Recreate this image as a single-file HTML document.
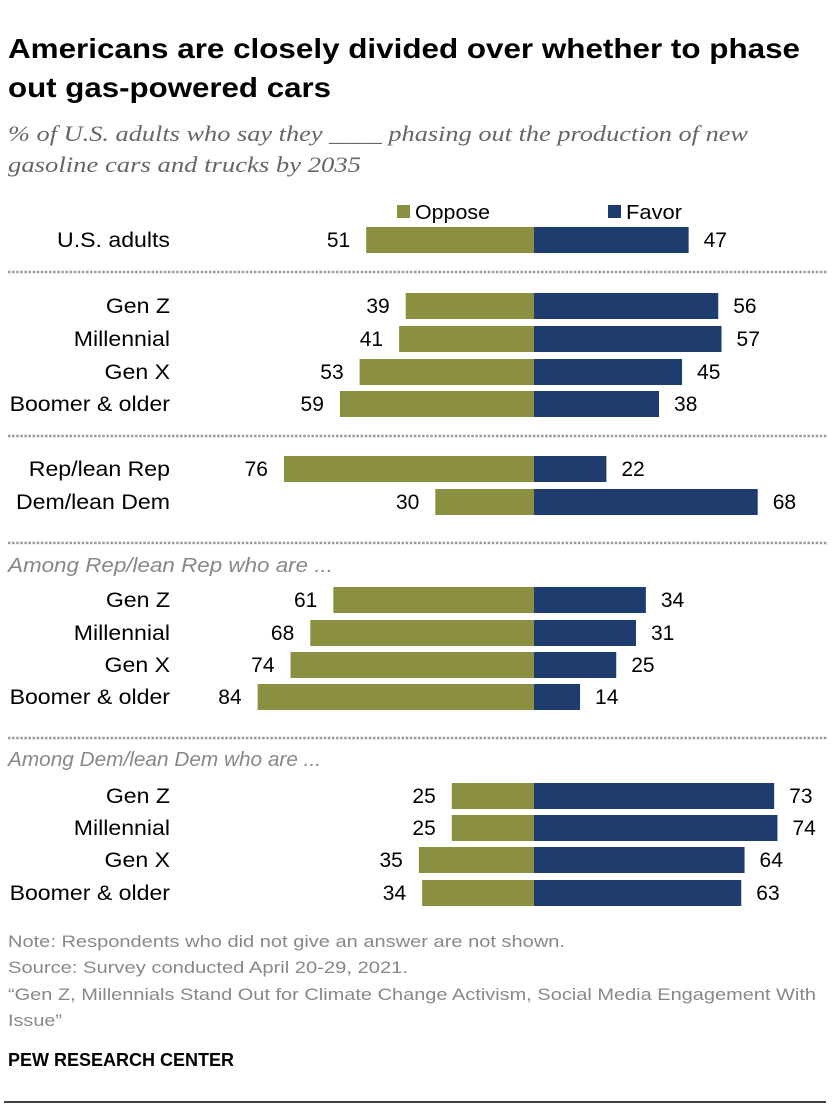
<!DOCTYPE html>
<html><head><meta charset="utf-8"><style>
body{margin:0;background:#fff;}
svg{display:block;font-family:"Liberation Sans",sans-serif;}
</style></head><body>
<svg id="c" width="840" height="1108" viewBox="0 0 840 1108">
<text x="8" y="58" font-size="28" font-weight="bold" fill="#000" textLength="792" lengthAdjust="spacingAndGlyphs">Americans are closely divided over whether to phase</text>
<text x="8" y="97" font-size="28" font-weight="bold" fill="#000" textLength="323" lengthAdjust="spacingAndGlyphs">out gas-powered cars</text>
<text x="8" y="141" font-size="22" font-style="italic" fill="#666" font-family="Liberation Serif,serif" textLength="740" lengthAdjust="spacingAndGlyphs">% of U.S. adults who say they ____ phasing out the production of new</text>
<text x="8" y="172" font-size="22" font-style="italic" fill="#666" font-family="Liberation Serif,serif" textLength="353" lengthAdjust="spacingAndGlyphs">gasoline cars and trucks by 2035</text>
<rect x="397" y="205" width="13" height="13" fill="#8a9040"/>
<text x="415" y="219" font-size="20" textLength="75" lengthAdjust="spacingAndGlyphs">Oppose</text>
<rect x="608" y="205" width="13" height="13" fill="#1f3c6e"/>
<text x="626" y="219" font-size="20" textLength="56" lengthAdjust="spacingAndGlyphs">Favor</text>
<g id="g"></g>
<text x="8" y="947" font-size="17" fill="#888" textLength="557" lengthAdjust="spacingAndGlyphs">Note: Respondents who did not give an answer are not shown.</text>
<text x="8" y="973" font-size="17" fill="#888" textLength="400" lengthAdjust="spacingAndGlyphs">Source: Survey conducted April 20-29, 2021.</text>
<text x="8" y="1000" font-size="17" fill="#888" textLength="808" lengthAdjust="spacingAndGlyphs">“Gen Z, Millennials Stand Out for Climate Change Activism, Social Media Engagement With</text>
<text x="8" y="1026" font-size="17" fill="#888" textLength="54" lengthAdjust="spacingAndGlyphs">Issue”</text>
<text x="8" y="1066" font-size="18" font-weight="bold" fill="#000" textLength="226" lengthAdjust="spacingAndGlyphs">PEW RESEARCH CENTER</text>
<line x1="4" y1="1102" x2="826" y2="1102" stroke="#000" stroke-width="1.5"/>
</svg>
<script>
const categories=["U.S. adults","Gen Z","Millennial","Gen X","Boomer & older","Rep/lean Rep","Dem/lean Dem","Gen Z","Millennial","Gen X","Boomer & older","Gen Z","Millennial","Gen X","Boomer & older"];
const oppose=[51,39,41,53,59,76,30,61,68,74,84,25,25,35,34];
const favor=[47,56,57,45,38,22,68,34,31,25,14,73,74,64,63];
const rowTops=[227,293,326,359,391,456,489,587,620,652,684,783,815,847,880];
const separators=[272,436,543,738];
const headers=[["Among Rep/lean Rep who are ...",572,325],["Among Dem/lean Dem who are ...",766,313]];
const NS="http://www.w3.org/2000/svg",g=document.getElementById('g');
const cx=534,k=3.29,bh=26;
const x=v=>v*k;
function el(t,a,txt){const e=document.createElementNS(NS,t);for(const p in a)e.setAttribute(p,a[p]);if(txt!=null)e.textContent=txt;g.appendChild(e);return e;}
separators.forEach(y=>{const e=el('line',{x1:8,x2:828,y1:y,y2:y,stroke:'#999','stroke-width':2.5,'stroke-dasharray':'2.5 1.6'});

});
headers.forEach(h=>{const e=el('text',{x:8,y:h[1],'font-size':20,'font-style':'italic',fill:'#888',textLength:h[2],lengthAdjust:'spacingAndGlyphs'},h[0]);

});
categories.forEach((c,i)=>{const y=rowTops[i],ty=y+bh/2+7;
const l=el('text',{x:170,y:ty,'font-size':21,'text-anchor':'end',transform:`translate(170 0) scale(1.1 1) translate(-170 0)`},c);


const o=el('rect',{x:cx-x(oppose[i]),y:y,width:x(oppose[i]),height:bh,fill:'#8a9040'});


const f=el('rect',{x:cx,y:y,width:x(favor[i]),height:bh,fill:'#1f3c6e'});


const ov=el('text',{x:cx-x(oppose[i])-16,y:ty,'font-size':21,'text-anchor':'end'},oppose[i]);


const fv=el('text',{x:cx+x(favor[i])+15,y:ty,'font-size':21},favor[i]);

});
</script>
</body></html>
